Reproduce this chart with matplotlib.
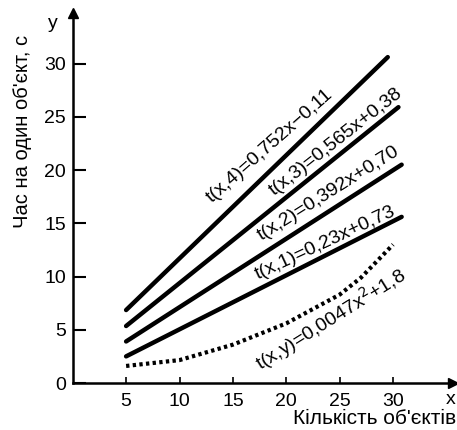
import matplotlib
matplotlib.use("Agg")
import matplotlib.pyplot as plt

plt.rcParams['font.family'] = ['Liberation Sans', 'DejaVu Sans']

# Data
x_t4 = [5, 29.5]; y_t4 = [6.85, 30.6]
x_t3 = [5, 30.5]; y_t3 = [5.35, 25.9]
x_t2 = [5, 30.8]; y_t2 = [3.9, 20.5]
x_t1 = [5, 30.8]; y_t1 = [2.5, 15.6]
x_ty = [5, 10, 15, 20, 25, 27, 30]
y_ty = [1.6, 2.15, 3.6, 5.6, 8.3, 9.9, 13.0]

x_ticks = [5, 10, 15, 20, 25, 30]
y_ticks = [0, 5, 10, 15, 20, 25, 30]

labels = ["t(x,4)=0,752x\u22120,11", "t(x,3)=0,565x+0,38", "t(x,2)=0,392x+0,70",
          "t(x,1)=0,23x+0,73", "t(x,y)=0,0047x$^2$+1,8"]

W, H = 457, 430
fig = plt.figure(figsize=(W/100, H/100), dpi=100)
x0px, y0px = 72.7, 383.0
pxx, pxy = 10.68, 10.65
xmax = (453 - x0px) / pxx
ymax = (y0px - 13) / pxy
ax = fig.add_axes([x0px/W, 1 - y0px/H, (453 - x0px)/W, (y0px - 13)/H])
ax.set_xlim(0, xmax)
ax.set_ylim(0, ymax)

for s in ['top', 'right']:
    ax.spines[s].set_visible(False)
for s in ['left', 'bottom']:
    ax.spines[s].set_linewidth(1.8)

ax.plot(1, 0, ">k", ms=7, transform=ax.transAxes, clip_on=False)
ax.plot(0, 1, "^k", ms=7, transform=ax.transAxes, clip_on=False)

ax.set_xticks(x_ticks)
ax.set_yticks(y_ticks)
ax.tick_params(axis='x', direction='in', length=4, width=1.2, labelsize=14, pad=7)
ax.tick_params(axis='y', direction='in', length=9, width=1.5, labelsize=14, pad=5)

lw = 3.2
ax.plot(x_t4, y_t4, color='black', lw=lw, solid_capstyle='round')
ax.plot(x_t3, y_t3, color='black', lw=lw, solid_capstyle='round')
ax.plot(x_t2, y_t2, color='black', lw=lw, solid_capstyle='round')
ax.plot(x_t1, y_t1, color='black', lw=lw, solid_capstyle='round')
ax.plot(x_ty, y_ty, color='black', lw=3.0, linestyle=(0, (0.8, 0.8)))

def pxdata(px, py):
    return (px - x0px) / pxx, (y0px - py) / pxy

pos = [(270, 146, 41.5), (336, 142, 38), (329, 193, 32), (325, 243, 25), (331, 319, 32)]
for lab, (px, py, rot) in zip(labels, pos):
    dx, dy = pxdata(px, py)
    ax.text(dx, dy, lab, rotation=rot, rotation_mode='anchor', ha='center', va='center',
            fontsize=14, color='black')

fig.text(23/W, 1 - 131/H, "Час на один об'єкт, с", rotation=90, ha='center', va='center',
         fontsize=14.5)
fig.text(53/W, 1 - 24/H, "y", ha='center', va='center', fontsize=14)
fig.text(456/W, 1 - 400/H, "x", ha='right', va='center', fontsize=14)
fig.text(456/W, 1 - 419/H, "Кількість об'єктів", ha='right', va='center', fontsize=15)

fig.savefig("out.png", dpi=100)
